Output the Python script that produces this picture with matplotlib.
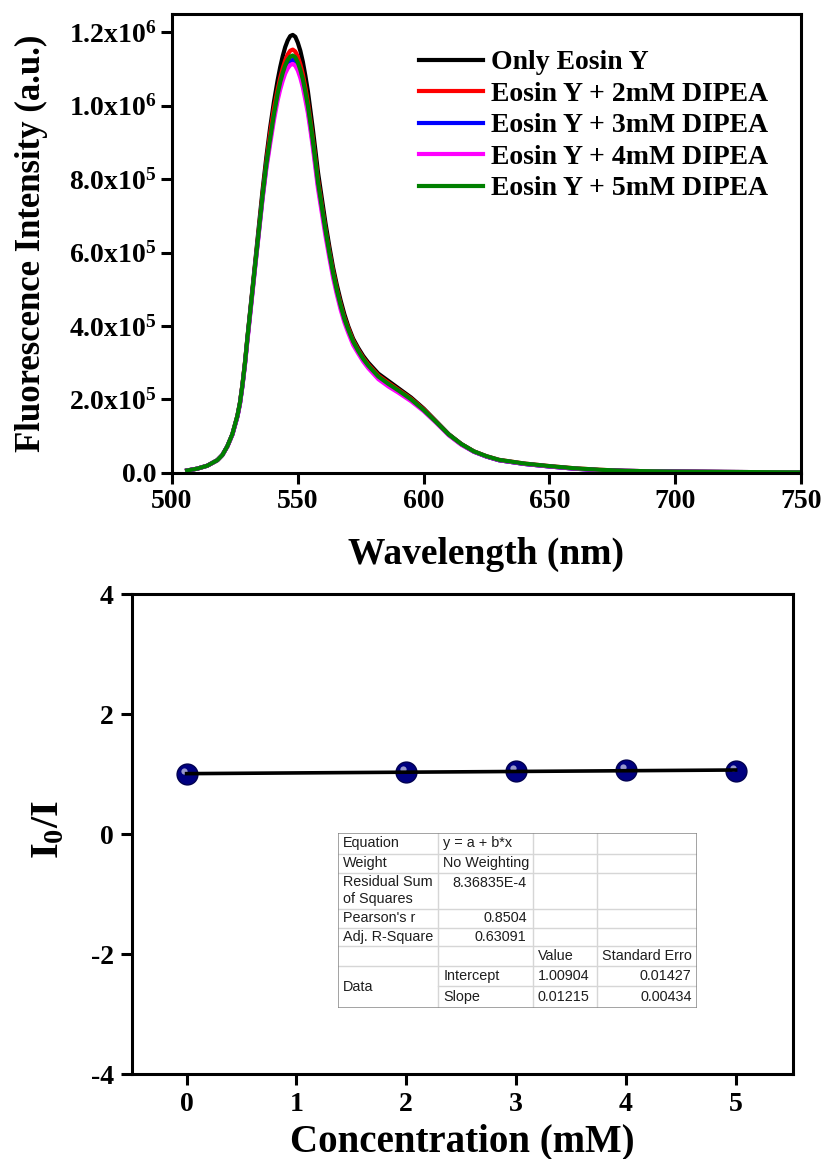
import matplotlib
matplotlib.use("Agg")
import matplotlib.pyplot as plt
from matplotlib import transforms

# emission spectra (intensity in units of 1e6)
wavelength = [506, 510, 514, 518, 520, 522, 524, 526, 527, 528, 529, 530,
              531.5, 533, 534.5, 536, 537.5, 539, 540.5, 542,
              543, 544, 545, 546, 547, 548, 549, 550, 551, 552, 553, 554, 555, 556, 557, 558,
              559.5, 561, 562.5, 564, 565.5, 567, 568.5, 570,
              572, 574, 576, 578,
              582, 586, 590, 595, 600, 605, 610, 615, 620, 625, 630,
              640, 650, 660, 670, 680, 690, 700, 720, 750]
only_eosin = [0.006, 0.011, 0.019, 0.034, 0.048, 0.072, 0.105, 0.155, 0.19, 0.24, 0.30, 0.37,
              0.47, 0.57, 0.67, 0.77, 0.86, 0.94, 1.01, 1.07,
              1.105, 1.135, 1.16, 1.178, 1.19, 1.193, 1.188, 1.172, 1.15, 1.12, 1.082, 1.04, 0.988, 0.935, 0.878, 0.82,
              0.75, 0.68, 0.618, 0.56, 0.512, 0.47, 0.432, 0.40,
              0.365, 0.34, 0.318, 0.30,
              0.27, 0.25, 0.23, 0.205, 0.175, 0.14, 0.105, 0.078, 0.058, 0.044, 0.034,
              0.024, 0.017, 0.011, 0.007, 0.005, 0.004, 0.003, 0.002, 0.001]
dipea_2mm = [0.006, 0.011, 0.019, 0.034, 0.048, 0.072, 0.105, 0.155, 0.19, 0.24, 0.30, 0.368,
             0.466, 0.565, 0.662, 0.76, 0.847, 0.925, 0.992, 1.045,
             1.076, 1.102, 1.124, 1.14, 1.15, 1.153, 1.148, 1.134, 1.113, 1.086, 1.05, 1.01, 0.961, 0.91, 0.855, 0.80,
             0.732, 0.665, 0.605, 0.55, 0.502, 0.46, 0.423, 0.395,
             0.36, 0.335, 0.313, 0.295,
             0.265, 0.245, 0.226, 0.202, 0.173, 0.139, 0.104, 0.078, 0.058, 0.045, 0.035,
             0.025, 0.018, 0.012, 0.008, 0.005, 0.004, 0.003, 0.002, 0.001]
dipea_3mm = [0.006, 0.011, 0.019, 0.034, 0.048, 0.072, 0.104, 0.153, 0.188, 0.237, 0.296, 0.365,
             0.462, 0.56, 0.655, 0.75, 0.835, 0.905, 0.97, 1.025,
             1.054, 1.078, 1.098, 1.113, 1.122, 1.125, 1.12, 1.107, 1.087, 1.061, 1.027, 0.99, 0.944, 0.895, 0.84, 0.785,
             0.72, 0.655, 0.596, 0.54, 0.493, 0.452, 0.416, 0.388,
             0.354, 0.33, 0.308, 0.29,
             0.26, 0.24, 0.222, 0.198, 0.17, 0.137, 0.103, 0.077, 0.057, 0.044, 0.034,
             0.024, 0.017, 0.011, 0.007, 0.005, 0.004, 0.003, 0.002, 0.001]
dipea_4mm = [0.006, 0.011, 0.019, 0.034, 0.048, 0.071, 0.103, 0.152, 0.186, 0.235, 0.293, 0.36,
             0.457, 0.555, 0.65, 0.745, 0.828, 0.895, 0.96, 1.015,
             1.044, 1.068, 1.088, 1.102, 1.111, 1.114, 1.109, 1.096, 1.076, 1.05, 1.016, 0.98, 0.934, 0.885, 0.83, 0.775,
             0.71, 0.645, 0.587, 0.532, 0.486, 0.445, 0.41, 0.382,
             0.348, 0.325, 0.303, 0.285,
             0.255, 0.235, 0.218, 0.195, 0.168, 0.136, 0.102, 0.076, 0.057, 0.044, 0.034,
             0.024, 0.017, 0.011, 0.007, 0.005, 0.004, 0.003, 0.002, 0.001]
dipea_5mm = [0.006, 0.011, 0.019, 0.034, 0.048, 0.072, 0.105, 0.155, 0.19, 0.239, 0.298, 0.368,
             0.465, 0.562, 0.658, 0.755, 0.84, 0.91, 0.976, 1.033,
             1.064, 1.089, 1.11, 1.125, 1.134, 1.137, 1.132, 1.118, 1.098, 1.072, 1.038, 1.0, 0.953, 0.903, 0.848, 0.792,
             0.726, 0.66, 0.6, 0.545, 0.497, 0.456, 0.419, 0.391,
             0.357, 0.332, 0.31, 0.292,
             0.262, 0.242, 0.224, 0.2, 0.171, 0.138, 0.104, 0.078, 0.058, 0.045, 0.035,
             0.025, 0.018, 0.012, 0.008, 0.005, 0.004, 0.003, 0.002, 0.001]
series_labels = ["Only Eosin Y", "Eosin Y + 2mM DIPEA", "Eosin Y + 3mM DIPEA",
                 "Eosin Y + 4mM DIPEA", "Eosin Y + 5mM DIPEA"]
series_colors = ["black", "#ff0000", "#0000ff", "#ff00ff", "#008000"]
intensity_ticks = [0, 2e5, 4e5, 6e5, 8e5, 1e6, 1.2e6]
intensity_labels = ["0.0", "2.0x10$^{5}$", "4.0x10$^{5}$", "6.0x10$^{5}$",
                    "8.0x10$^{5}$", "1.0x10$^{6}$", "1.2x10$^{6}$"]

# Stern-Volmer data
concentration = [0, 2, 3, 4, 5]
i0_over_i = [1.00, 1.03, 1.06, 1.07, 1.045]
fit_intercept = 1.00904
fit_slope = 0.01215
fit_rows = [
    ["Equation", "y = a + b*x", "", ""],
    ["Weight", "No Weighting", "", ""],
    ["Residual Sum\nof Squares", "8.36835E-4", "", ""],
    ["Pearson's r", "0.8504", "", ""],
    ["Adj. R-Square", "0.63091", "", ""],
    ["", "", "Value", "Standard Erro"],
    ["Data", "Intercept", "1.00904", "0.01427"],
    ["", "Slope", "0.01215", "0.00434"],
]

plt.rcParams.update({
    "font.family": "Liberation Serif",
    "font.weight": "bold",
    "mathtext.fontset": "custom",
    "mathtext.rm": "Liberation Serif:bold",
    "mathtext.bf": "Liberation Serif:bold",
    "mathtext.it": "Liberation Serif:bold:italic",
    "axes.linewidth": 2.2,
    "axes.unicode_minus": False,
})

fig = plt.figure(figsize=(8.24, 11.59), dpi=100)
W, H = 824, 1159


def box(x0, y0, x1, y1):
    return [x0 / W, 1 - y1 / H, (x1 - x0) / W, (y1 - y0) / H]


def style(ax, pad):
    ax.tick_params(direction="out", length=8, width=2.2, top=False, right=False, pad=pad)


# ---- top panel: spectra
ax1 = fig.add_axes(box(172, 14, 801, 472.7))
spectra = [only_eosin, dipea_2mm, dipea_3mm, dipea_4mm, dipea_5mm]
for values, label, color in zip(spectra, series_labels, series_colors):
    ax1.plot(wavelength, [v * 1e6 for v in values], color=color, lw=3, label=label,
             solid_joinstyle="round")
ax1.set_xlim(500, 750)
ax1.set_ylim(0, 1.25e6)
ax1.set_xticks([500, 550, 600, 650, 700, 750])
ax1.set_yticks(intensity_ticks, intensity_labels)
style(ax1, 3)
ax1.tick_params(axis="x", labelsize=20, pad=4)
ax1.tick_params(axis="y", labelsize=20)
ax1.set_xlabel("Wavelength (nm)", fontsize=27, fontweight="bold")
ax1.xaxis.set_label_coords(0.5, -0.14)
ax1.set_ylabel("Fluorescence Intensity (a.u.)", fontsize=25, fontweight="bold")
ax1.yaxis.set_label_coords(-0.197, 0.5)
ax1.legend(loc="upper left", bbox_to_anchor=(0.393, 0.922), frameon=False,
           prop={"family": "Liberation Serif", "weight": "bold", "size": 20},
           handlelength=2.3, handletextpad=0.3, labelspacing=0.22,
           borderaxespad=0, borderpad=0)

# ---- bottom panel: I0/I vs concentration
ax2 = fig.add_axes(box(131.7, 594.3, 792.7, 1074))
ax2.plot(concentration, i0_over_i, "o", ms=15, color="#000080",
         mec="#000050", mew=1, zorder=2)
glint = transforms.offset_copy(ax2.transData, fig=fig, x=-3, y=3, units="dots")
ax2.plot(concentration, i0_over_i, "o", ms=4.5, color="white", alpha=0.6,
         mew=0, transform=glint, zorder=2.5)
fit_x = [concentration[0], concentration[-1]]
ax2.plot(fit_x, [fit_intercept + fit_slope * x for x in fit_x], color="black",
         lw=2.6, zorder=3)
ax2.set_xlim(-0.5, 5.52)
ax2.set_ylim(-4, 4)
ax2.set_xticks([0, 1, 2, 3, 4, 5])
ax2.set_yticks([-4, -2, 0, 2, 4])
style(ax2, 5)
ax2.tick_params(labelsize=20)
ax2.set_xlabel("Concentration (mM)", fontsize=28, fontweight="bold")
ax2.xaxis.set_label_coords(0.5, -0.104)
ax2.set_ylabel(r"I$_{0}$/I", fontsize=29, fontweight="bold")
ax2.yaxis.set_label_coords(-0.097, 0.51)

# ---- fit summary table
tab = fig.add_axes(box(338.3, 833, 696.7, 1008))
tab.set_xlim(0, 358.4)
tab.set_ylim(175, 0)
tab.axis("off")
cols = [0, 100, 194.4, 258.4, 358.4]
rows = [0, 20.7, 39.7, 75.7, 94.7, 113.3, 133.3, 153.3, 175]
grid = "#d6d6d6"
for i, y in enumerate(rows[1:-1], start=1):
    x_start = cols[1] if i == 7 else cols[0]
    tab.plot([x_start, cols[-1]], [y, y], color=grid, lw=1)
for x in cols[1:-1]:
    tab.plot([x, x], [rows[0], rows[-1]], color=grid, lw=1)
tab.plot([0, 358.4, 358.4, 0, 0], [0, 0, 175, 175, 0], color="#8a8a8a", lw=1.1)

txt = dict(family="Liberation Sans", fontweight="normal", fontsize=10.4,
           color="#1e1e1e", va="center")
for r, row in enumerate(fit_rows):
    yc = (rows[r] + rows[r + 1]) / 2
    for c, cell in enumerate(row):
        if not cell:
            continue
        if c == 0 and cell == "Data":
            tab.text(5, (rows[6] + rows[8]) / 2, cell, ha="left", **txt)
        elif c == 0:
            tab.text(5, yc, cell, ha="left", linespacing=1.25, **txt)
        elif c == 1 and r in (2, 3, 4):
            tab.text(cols[2] - 6, yc if r != 2 else rows[2] + 10, cell, ha="right", **txt)
        elif c == 1:
            tab.text(cols[1] + 5, yc, cell, ha="left", **txt)
        elif c == 2:
            tab.text(cols[2] + 5, yc, cell, ha="left", **txt)
        elif c == 3 and r == 5:
            tab.text(cols[3] + 5, yc, cell, ha="left", **txt)
        else:
            tab.text(cols[4] - 5, yc, cell, ha="right", **txt)

fig.savefig("out.png", dpi=100, facecolor="white")
